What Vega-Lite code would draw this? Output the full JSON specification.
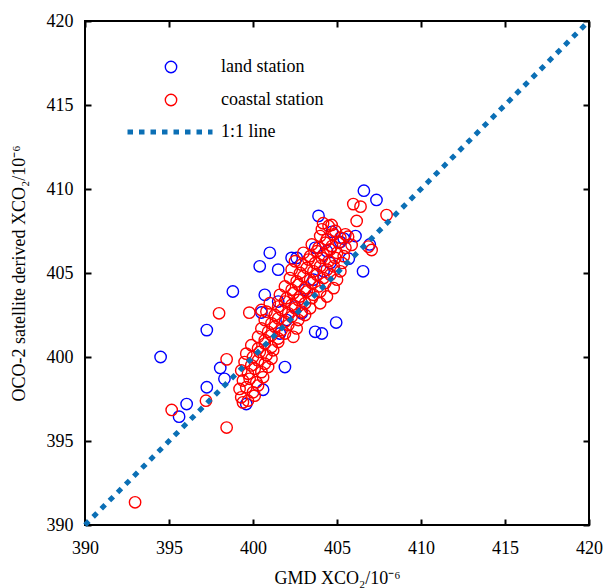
{
  "$schema": "https://vega.github.io/schema/vega-lite/v6.json",
  "width": 504,
  "height": 504,
  "autosize": {"type": "none"},
  "padding": {"left": 85, "top": 21, "right": 14, "bottom": 63},
  "config": {
    "view": {"stroke": "black", "strokeWidth": 2},
    "font": "Liberation Serif",
    "style": {"guide-label": {"font": "Liberation Serif", "fontSize": 18, "fill": "black"}, "guide-title": {"font": "Liberation Serif", "fontSize": 18, "fill": "black", "fontWeight": "normal"}},
    "axis": {
      "domain": false,
      "grid": false,
      "tickSize": -6,
      "tickWidth": 2,
      "tickColor": "black",
      "labelFont": "Liberation Serif",
      "labelFontSize": 18,
      "labelColor": "black",
      "labelFlush": false,
      "titleFont": "Liberation Serif",
      "titleFontSize": 18,
      "titleFontWeight": "normal",
      "titleColor": "black"
    },
    "legend": {
      "labelFont": "Liberation Serif",
      "labelFontSize": 18,
      "labelColor": "black",
      "padding": 0
    }
  },
  "layer": [
    {
      "data": {
        "values": [
          {"x": 394.5, "y": 400.0, "s": "land station"},
          {"x": 395.6, "y": 396.45, "s": "land station"},
          {"x": 396.05, "y": 397.2, "s": "land station"},
          {"x": 397.25, "y": 401.6, "s": "land station"},
          {"x": 397.25, "y": 398.2, "s": "land station"},
          {"x": 398.05, "y": 399.35, "s": "land station"},
          {"x": 398.3, "y": 398.7, "s": "land station"},
          {"x": 399.6, "y": 397.2, "s": "land station"},
          {"x": 400.6, "y": 398.05, "s": "land station"},
          {"x": 401.9, "y": 399.4, "s": "land station"},
          {"x": 403.7, "y": 401.5, "s": "land station"},
          {"x": 404.1, "y": 401.4, "s": "land station"},
          {"x": 400.5, "y": 402.65, "s": "land station"},
          {"x": 401.5, "y": 403.3, "s": "land station"},
          {"x": 401.0, "y": 406.2, "s": "land station"},
          {"x": 400.4, "y": 405.4, "s": "land station"},
          {"x": 401.5, "y": 405.2, "s": "land station"},
          {"x": 402.3, "y": 405.9, "s": "land station"},
          {"x": 402.6, "y": 405.9, "s": "land station"},
          {"x": 398.8, "y": 403.9, "s": "land station"},
          {"x": 400.7, "y": 403.7, "s": "land station"},
          {"x": 406.6, "y": 409.9, "s": "land station"},
          {"x": 407.35, "y": 409.35, "s": "land station"},
          {"x": 403.9, "y": 408.4, "s": "land station"},
          {"x": 406.55, "y": 405.1, "s": "land station"},
          {"x": 404.7, "y": 407.45, "s": "land station"},
          {"x": 403.7, "y": 406.5, "s": "land station"},
          {"x": 404.4, "y": 406.3, "s": "land station"},
          {"x": 405.7, "y": 405.85, "s": "land station"},
          {"x": 405.4, "y": 407.05, "s": "land station"},
          {"x": 404.95, "y": 402.05, "s": "land station"},
          {"x": 406.95, "y": 406.7, "s": "land station"},
          {"x": 406.1, "y": 407.2, "s": "land station"},
          {"x": 405.2, "y": 406.85, "s": "land station"},
          {"x": 402.5, "y": 403.0, "s": "land station"},
          {"x": 403.1, "y": 404.0, "s": "land station"},
          {"x": 403.6, "y": 404.6, "s": "land station"},
          {"x": 402.0, "y": 402.2, "s": "land station"},
          {"x": 404.2, "y": 405.1, "s": "land station"},
          {"x": 401.6, "y": 401.4, "s": "land station"},
          {"x": 402.9, "y": 402.6, "s": "land station"},
          {"x": 404.6, "y": 405.6, "s": "land station"},
          {"x": 392.98, "y": 391.35, "s": "coastal station"},
          {"x": 395.16, "y": 396.85, "s": "coastal station"},
          {"x": 398.43, "y": 395.8, "s": "coastal station"},
          {"x": 397.2, "y": 397.4, "s": "coastal station"},
          {"x": 398.43, "y": 399.86, "s": "coastal station"},
          {"x": 397.98, "y": 402.6, "s": "coastal station"},
          {"x": 399.78, "y": 402.64, "s": "coastal station"},
          {"x": 399.4, "y": 397.3, "s": "coastal station"},
          {"x": 405.97, "y": 409.1, "s": "coastal station"},
          {"x": 406.4, "y": 408.95, "s": "coastal station"},
          {"x": 406.17, "y": 408.1, "s": "coastal station"},
          {"x": 407.95, "y": 408.45, "s": "coastal station"},
          {"x": 404.17, "y": 407.96, "s": "coastal station"},
          {"x": 404.68, "y": 407.86, "s": "coastal station"},
          {"x": 406.87, "y": 406.57, "s": "coastal station"},
          {"x": 407.06, "y": 406.37, "s": "coastal station"},
          {"x": 405.66, "y": 407.16, "s": "coastal station"},
          {"x": 405.87, "y": 406.67, "s": "coastal station"},
          {"x": 400.5, "y": 402.8, "s": "coastal station"},
          {"x": 399.3, "y": 397.6, "s": "coastal station"},
          {"x": 399.7, "y": 397.4, "s": "coastal station"},
          {"x": 400.1, "y": 397.7, "s": "coastal station"},
          {"x": 399.2, "y": 398.1, "s": "coastal station"},
          {"x": 399.6, "y": 398.2, "s": "coastal station"},
          {"x": 400.0, "y": 397.9, "s": "coastal station"},
          {"x": 400.3, "y": 398.3, "s": "coastal station"},
          {"x": 399.4, "y": 398.6, "s": "coastal station"},
          {"x": 399.8, "y": 398.7, "s": "coastal station"},
          {"x": 400.2, "y": 398.5, "s": "coastal station"},
          {"x": 400.6, "y": 398.8, "s": "coastal station"},
          {"x": 399.3, "y": 399.2, "s": "coastal station"},
          {"x": 399.7, "y": 399.0, "s": "coastal station"},
          {"x": 400.1, "y": 399.3, "s": "coastal station"},
          {"x": 400.5, "y": 399.1, "s": "coastal station"},
          {"x": 400.9, "y": 399.4, "s": "coastal station"},
          {"x": 399.5, "y": 399.7, "s": "coastal station"},
          {"x": 399.9, "y": 399.5, "s": "coastal station"},
          {"x": 400.3, "y": 399.8, "s": "coastal station"},
          {"x": 400.7, "y": 399.6, "s": "coastal station"},
          {"x": 401.1, "y": 399.9, "s": "coastal station"},
          {"x": 399.6, "y": 400.2, "s": "coastal station"},
          {"x": 400.0, "y": 400.0, "s": "coastal station"},
          {"x": 400.4, "y": 400.3, "s": "coastal station"},
          {"x": 400.8, "y": 400.1, "s": "coastal station"},
          {"x": 401.2, "y": 400.4, "s": "coastal station"},
          {"x": 399.9, "y": 400.7, "s": "coastal station"},
          {"x": 400.3, "y": 400.5, "s": "coastal station"},
          {"x": 400.7, "y": 400.8, "s": "coastal station"},
          {"x": 401.1, "y": 400.6, "s": "coastal station"},
          {"x": 401.5, "y": 400.9, "s": "coastal station"},
          {"x": 400.3, "y": 401.2, "s": "coastal station"},
          {"x": 400.7, "y": 401.0, "s": "coastal station"},
          {"x": 401.1, "y": 401.3, "s": "coastal station"},
          {"x": 401.5, "y": 401.1, "s": "coastal station"},
          {"x": 401.9, "y": 401.4, "s": "coastal station"},
          {"x": 402.4, "y": 401.2, "s": "coastal station"},
          {"x": 400.5, "y": 401.7, "s": "coastal station"},
          {"x": 400.9, "y": 401.5, "s": "coastal station"},
          {"x": 401.3, "y": 401.8, "s": "coastal station"},
          {"x": 401.7, "y": 401.6, "s": "coastal station"},
          {"x": 402.1, "y": 401.9, "s": "coastal station"},
          {"x": 402.6, "y": 401.7, "s": "coastal station"},
          {"x": 400.7, "y": 402.2, "s": "coastal station"},
          {"x": 401.1, "y": 402.0, "s": "coastal station"},
          {"x": 401.5, "y": 402.3, "s": "coastal station"},
          {"x": 401.9, "y": 402.1, "s": "coastal station"},
          {"x": 402.3, "y": 402.4, "s": "coastal station"},
          {"x": 402.7, "y": 402.2, "s": "coastal station"},
          {"x": 403.1, "y": 402.5, "s": "coastal station"},
          {"x": 400.8, "y": 402.7, "s": "coastal station"},
          {"x": 401.3, "y": 402.5, "s": "coastal station"},
          {"x": 401.7, "y": 402.8, "s": "coastal station"},
          {"x": 402.1, "y": 402.6, "s": "coastal station"},
          {"x": 402.5, "y": 402.9, "s": "coastal station"},
          {"x": 402.9, "y": 402.7, "s": "coastal station"},
          {"x": 403.4, "y": 402.9, "s": "coastal station"},
          {"x": 401.0, "y": 403.2, "s": "coastal station"},
          {"x": 401.5, "y": 403.0, "s": "coastal station"},
          {"x": 401.9, "y": 403.3, "s": "coastal station"},
          {"x": 402.3, "y": 403.1, "s": "coastal station"},
          {"x": 402.7, "y": 403.4, "s": "coastal station"},
          {"x": 403.1, "y": 403.2, "s": "coastal station"},
          {"x": 403.5, "y": 403.5, "s": "coastal station"},
          {"x": 404.0, "y": 403.2, "s": "coastal station"},
          {"x": 401.6, "y": 403.7, "s": "coastal station"},
          {"x": 402.0, "y": 403.5, "s": "coastal station"},
          {"x": 402.4, "y": 403.8, "s": "coastal station"},
          {"x": 402.8, "y": 403.6, "s": "coastal station"},
          {"x": 403.2, "y": 403.9, "s": "coastal station"},
          {"x": 403.6, "y": 403.7, "s": "coastal station"},
          {"x": 404.0, "y": 403.9, "s": "coastal station"},
          {"x": 404.4, "y": 403.6, "s": "coastal station"},
          {"x": 401.9, "y": 404.2, "s": "coastal station"},
          {"x": 402.3, "y": 404.0, "s": "coastal station"},
          {"x": 402.7, "y": 404.3, "s": "coastal station"},
          {"x": 403.1, "y": 404.1, "s": "coastal station"},
          {"x": 403.5, "y": 404.4, "s": "coastal station"},
          {"x": 403.9, "y": 404.2, "s": "coastal station"},
          {"x": 404.3, "y": 404.4, "s": "coastal station"},
          {"x": 404.8, "y": 404.1, "s": "coastal station"},
          {"x": 402.2, "y": 404.7, "s": "coastal station"},
          {"x": 402.6, "y": 404.5, "s": "coastal station"},
          {"x": 403.0, "y": 404.8, "s": "coastal station"},
          {"x": 403.4, "y": 404.6, "s": "coastal station"},
          {"x": 403.8, "y": 404.9, "s": "coastal station"},
          {"x": 404.2, "y": 404.7, "s": "coastal station"},
          {"x": 404.6, "y": 404.9, "s": "coastal station"},
          {"x": 405.0, "y": 404.6, "s": "coastal station"},
          {"x": 402.3, "y": 405.2, "s": "coastal station"},
          {"x": 402.8, "y": 405.0, "s": "coastal station"},
          {"x": 403.2, "y": 405.3, "s": "coastal station"},
          {"x": 403.6, "y": 405.1, "s": "coastal station"},
          {"x": 404.0, "y": 405.4, "s": "coastal station"},
          {"x": 404.4, "y": 405.2, "s": "coastal station"},
          {"x": 404.8, "y": 405.4, "s": "coastal station"},
          {"x": 405.2, "y": 405.1, "s": "coastal station"},
          {"x": 402.5, "y": 405.7, "s": "coastal station"},
          {"x": 402.9, "y": 405.5, "s": "coastal station"},
          {"x": 403.3, "y": 405.8, "s": "coastal station"},
          {"x": 403.7, "y": 405.6, "s": "coastal station"},
          {"x": 404.1, "y": 405.9, "s": "coastal station"},
          {"x": 404.5, "y": 405.7, "s": "coastal station"},
          {"x": 404.9, "y": 405.9, "s": "coastal station"},
          {"x": 405.3, "y": 405.6, "s": "coastal station"},
          {"x": 403.0, "y": 406.2, "s": "coastal station"},
          {"x": 403.4, "y": 406.0, "s": "coastal station"},
          {"x": 403.8, "y": 406.3, "s": "coastal station"},
          {"x": 404.2, "y": 406.1, "s": "coastal station"},
          {"x": 404.6, "y": 406.4, "s": "coastal station"},
          {"x": 405.0, "y": 406.2, "s": "coastal station"},
          {"x": 405.4, "y": 406.0, "s": "coastal station"},
          {"x": 403.5, "y": 406.7, "s": "coastal station"},
          {"x": 403.9, "y": 406.5, "s": "coastal station"},
          {"x": 404.3, "y": 406.8, "s": "coastal station"},
          {"x": 404.7, "y": 406.6, "s": "coastal station"},
          {"x": 405.1, "y": 406.8, "s": "coastal station"},
          {"x": 405.5, "y": 406.5, "s": "coastal station"},
          {"x": 404.0, "y": 407.2, "s": "coastal station"},
          {"x": 404.4, "y": 407.0, "s": "coastal station"},
          {"x": 404.8, "y": 407.3, "s": "coastal station"},
          {"x": 405.2, "y": 407.1, "s": "coastal station"},
          {"x": 405.5, "y": 407.3, "s": "coastal station"},
          {"x": 404.1, "y": 407.6, "s": "coastal station"},
          {"x": 404.5, "y": 407.8, "s": "coastal station"},
          {"x": 404.9, "y": 407.5, "s": "coastal station"}
        ]
      },
      "mark": {"type": "point", "shape": "circle", "filled": false, "size": 130, "strokeWidth": 1.4, "opacity": 1},
      "encoding": {
        "x": {
          "field": "x", "type": "quantitative",
          "scale": {"domain": [390, 420], "nice": false, "zero": false},
          "axis": {"orient": "bottom", "title": "GMD XCO₂/10⁻⁶", "values": [390, 395, 400, 405, 410, 415, 420], "tickSize": -6, "labelFont": "Liberation Serif", "labelFontSize": 18, "labelPadding": 20, "titlePadding": 12}
        },
        "y": {
          "field": "y", "type": "quantitative",
          "scale": {"domain": [390, 420], "nice": false, "zero": false},
          "axis": {"orient": "left", "title": "OCO-2 satellite derived XCO₂/10⁻⁶", "values": [390, 395, 400, 405, 410, 415, 420], "tickSize": -6, "labelFont": "Liberation Serif", "labelFontSize": 18, "labelPadding": 18, "titlePadding": 18}
        },
        "color": {
          "field": "s", "type": "nominal",
          "scale": {"domain": ["land station", "coastal station"], "range": ["#0000ff", "#ff0000"]},
          "legend": {
            "orient": "none", "legendX": 40, "legendY": 35, "title": null,
            "symbolType": "circle", "symbolSize": 130, "symbolStrokeWidth": 1.4, "symbolFillColor": "transparent",
            "symbolOffset": 37, "labelOffset": 41, "clipHeight": 22, "rowPadding": 11
          }
        }
      }
    },
    {
      "data": {"values": [{"x": 390, "y": 390, "k": "1:1 line"}, {"x": 420, "y": 420, "k": "1:1 line"}]},
      "mark": {"type": "line", "color": "#0b6fb5", "strokeWidth": 5, "strokeCap": "butt"},
      "encoding": {
        "x": {"field": "x", "type": "quantitative", "axis": {"orient": "top", "labels": false, "title": null, "values": [390, 395, 400, 405, 410, 415, 420], "tickSize": -6}},
        "y": {"field": "y", "type": "quantitative", "axis": {"orient": "right", "labels": false, "title": null, "values": [390, 395, 400, 405, 410, 415, 420], "tickSize": -6}},
        "strokeDash": {
          "field": "k", "type": "nominal",
          "scale": {"domain": ["1:1 line"], "range": [[5.5, 6]]},
          "legend": {
            "orient": "none", "legendX": 40, "legendY": 100, "title": null,
            "symbolType": "stroke", "symbolSize": 7225, "symbolStrokeWidth": 5, "symbolStrokeColor": "#0b6fb5",
            "labelOffset": 6, "clipHeight": 22
          }
        }
      }
    }
  ]
}
